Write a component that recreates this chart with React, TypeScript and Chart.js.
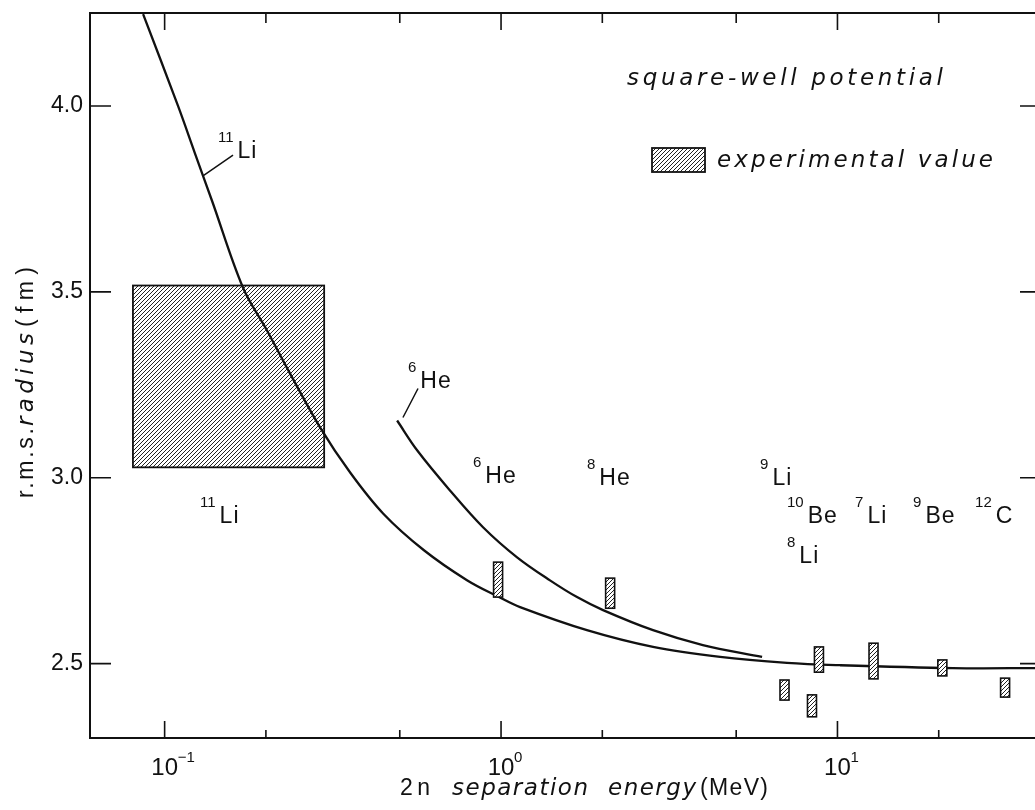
import React, { useEffect, useRef } from "react";
import { Chart, registerables } from "chart.js";

Chart.register(...registerables);

// ---------------- data ----------------
// 11Li square-well curve (2n separation energy in MeV, r.m.s. radius in fm)
const li11CurveX = [0.0863, 0.1096, 0.1229, 0.1383, 0.171, 0.2015, 0.236, 0.29, 0.356, 0.446, 0.59, 0.792, 0.986, 1.139, 1.8, 2.83, 4.48, 7.08, 9.97, 22.0, 40];
const li11CurveY = [4.247, 4.0, 3.874, 3.745, 3.511, 3.396, 3.28, 3.135, 3.014, 2.904, 2.805, 2.7245, 2.679, 2.652, 2.59, 2.545, 2.518, 2.502, 2.496, 2.488, 2.488];

// 6He square-well curve
const he6CurveX = [0.491, 0.563, 0.705, 0.884, 1.116, 1.398, 1.682, 2.01, 2.83, 3.98, 5.97];
const he6CurveY = [3.154, 3.074, 2.966, 2.867, 2.786, 2.724, 2.679, 2.644, 2.59, 2.55, 2.518];

// 11Li experimental value (large box)
const li11BoxX = [0.0805, 0.298];
const li11BoxY = [3.028, 3.517];

// other experimental values (small boxes): S2n and radius range
const expX = [0.98, 2.11, 6.96, 8.4, 8.81, 12.8, 20.5, 31.5];
const expLow = [2.679, 2.649, 2.402, 2.357, 2.477, 2.459, 2.467, 2.41];
const expHigh = [2.773, 2.73, 2.456, 2.416, 2.545, 2.555, 2.51, 2.461];

// isotope labels (anchored in data coordinates)
const labelSup = ["11", "11", "6", "6", "8", "9", "10", "7", "9", "12", "8"];
const labelMain = ["Li", "Li", "He", "He", "He", "Li", "Be", "Li", "Be", "C", "Li"];
const labelX = [0.1441, 0.1274, 0.529, 0.8253, 1.801, 5.887, 7.08, 11.28, 16.78, 25.65, 7.08];
const labelY = [3.86, 2.8776, 3.2427, 2.985, 2.98, 2.98, 2.8776, 2.8776, 2.8776, 2.8776, 2.77];

// leader lines from curves to their labels
const leaderX0 = [0.13, 0.511];
const leaderY0 = [3.812, 3.162];
const leaderX1 = [0.1597, 0.5665];
const leaderY1 = [3.868, 3.24];

// axes
const xMin = 0.06;
const xMax = 40;
const yMin = 2.3;
const yMax = 4.25;
const xMajorTicks = [0.1, 1, 10];
const xMajorExp = ["\u22121", "0", "1"];
const xMinorTicks = [0.2, 0.5, 2, 5, 20];
const yTicks = [2.5, 3.0, 3.5, 4.0];
const yTickLabels = ["2.5", "3.0", "3.5", "4.0"];

const noteText = "square-well potential";
const legendText = "experimental value";

// ---------------- drawing helpers ----------------
const INK = "#111";
const SANS = '"Liberation Sans", Arial, sans-serif';
const ITAL = '"DejaVu Sans", sans-serif';

function fillFit(ctx: CanvasRenderingContext2D, text: string, x: number, y: number, width: number) {
  const c: any = ctx;
  c.letterSpacing = "0px";
  const w = ctx.measureText(text).width;
  const n = [...text].length;
  const ls = n > 1 ? (width - w) / (n - 1) : 0;
  c.letterSpacing = ls + "px";
  ctx.fillText(text, x, y);
  c.letterSpacing = "0px";
}

function makeHatch(ctx: CanvasRenderingContext2D) {
  const pc = document.createElement("canvas");
  const s = 4;
  pc.width = s;
  pc.height = s;
  const p = pc.getContext("2d")!;
  p.fillStyle = "#fff";
  p.fillRect(0, 0, s, s);
  p.strokeStyle = "#222";
  p.lineWidth = 1;
  p.beginPath();
  p.moveTo(-1, s + 1);
  p.lineTo(s + 1, -1);
  p.moveTo(-1, 1);
  p.lineTo(1, -1);
  p.moveTo(s - 1, s + 1);
  p.lineTo(s + 1, s - 1);
  p.stroke();
  return ctx.createPattern(pc, "repeat")!;
}

const boxesBehind = {
  id: "boxesBehind",
  beforeDatasetsDraw(chart: any) {
    const ctx: CanvasRenderingContext2D = chart.ctx;
    const xs = chart.scales.x;
    const ys = chart.scales.y;
    const x0 = xs.getPixelForValue(li11BoxX[0]);
    const x1 = xs.getPixelForValue(li11BoxX[1]);
    const y0 = ys.getPixelForValue(li11BoxY[1]);
    const y1 = ys.getPixelForValue(li11BoxY[0]);
    ctx.save();
    ctx.fillStyle = makeHatch(ctx);
    ctx.fillRect(x0, y0, x1 - x0, y1 - y0);
    ctx.strokeStyle = INK;
    ctx.lineWidth = 1.8;
    ctx.strokeRect(x0, y0, x1 - x0, y1 - y0);
    ctx.restore();
  },
};

const decorations = {
  id: "decorations",
  afterDatasetsDraw(chart: any) {
    const ctx: CanvasRenderingContext2D = chart.ctx;
    const xs = chart.scales.x;
    const ys = chart.scales.y;
    const { left, right, top, bottom } = chart.chartArea;
    const hatch = makeHatch(ctx);
    ctx.save();

    // small experimental boxes
    const halfW = 4.5;
    for (let i = 0; i < expX.length; i++) {
      const cx = xs.getPixelForValue(expX[i]);
      const y0 = ys.getPixelForValue(expHigh[i]);
      const y1 = ys.getPixelForValue(expLow[i]);
      ctx.fillStyle = hatch;
      ctx.fillRect(cx - halfW, y0, halfW * 2, y1 - y0);
      ctx.strokeStyle = INK;
      ctx.lineWidth = 1.6;
      ctx.strokeRect(cx - halfW, y0, halfW * 2, y1 - y0);
    }

    // frame
    ctx.strokeStyle = INK;
    ctx.lineWidth = 2;
    ctx.strokeRect(left, top, right - left, bottom - top);

    // x ticks (inward, bottom & top)
    ctx.lineWidth = 1.6;
    ctx.beginPath();
    for (const v of xMajorTicks) {
      const px = xs.getPixelForValue(v);
      ctx.moveTo(px, bottom);
      ctx.lineTo(px, bottom - 17);
      ctx.moveTo(px, top);
      ctx.lineTo(px, top + 17);
    }
    for (const v of xMinorTicks) {
      const px = xs.getPixelForValue(v);
      ctx.moveTo(px, bottom);
      ctx.lineTo(px, bottom - 8);
      ctx.moveTo(px, top);
      ctx.lineTo(px, top + 10);
    }
    // y ticks (inward, left & right)
    for (const v of yTicks) {
      const py = ys.getPixelForValue(v);
      ctx.moveTo(left, py);
      ctx.lineTo(left + 21, py);
      ctx.moveTo(right, py);
      ctx.lineTo(right - 20, py);
    }
    ctx.stroke();

    ctx.fillStyle = INK;
    // y tick labels
    ctx.font = "23px " + SANS;
    ctx.textAlign = "right";
    ctx.textBaseline = "middle";
    yTicks.forEach((v, i) => {
      ctx.fillText(yTickLabels[i], left - 7, ys.getPixelForValue(v));
    });

    // x tick labels 10^n
    ctx.textBaseline = "alphabetic";
    xMajorTicks.forEach((v, i) => {
      const px = xs.getPixelForValue(v);
      ctx.font = "24px " + SANS;
      ctx.textAlign = "center";
      ctx.fillText("10", px, bottom + 37);
      ctx.font = "15px " + SANS;
      ctx.textAlign = "left";
      ctx.fillText(xMajorExp[i], px + 13, bottom + 24);
    });

    // isotope labels
    ctx.textAlign = "left";
    const c: any = ctx;
    for (let i = 0; i < labelSup.length; i++) {
      const px = xs.getPixelForValue(labelX[i]);
      const py = ys.getPixelForValue(labelY[i]);
      ctx.font = "15px " + SANS;
      ctx.fillText(labelSup[i], px, py - 16);
      const sw = ctx.measureText(labelSup[i]).width;
      ctx.font = "23px " + SANS;
      c.letterSpacing = "1px";
      ctx.fillText(labelMain[i], px + sw + 4, py);
      c.letterSpacing = "0px";
    }

    // leader lines
    ctx.lineWidth = 1.5;
    ctx.beginPath();
    for (let i = 0; i < leaderX0.length; i++) {
      ctx.moveTo(xs.getPixelForValue(leaderX0[i]), ys.getPixelForValue(leaderY0[i]));
      ctx.lineTo(xs.getPixelForValue(leaderX1[i]), ys.getPixelForValue(leaderY1[i]));
    }
    ctx.stroke();

    // annotation and legend
    ctx.font = "italic 23px " + ITAL;
    fillFit(ctx, noteText, left + 537, top + 72, 316);
    const lx = left + 562;
    const ly = top + 135;
    ctx.fillStyle = hatch;
    ctx.fillRect(lx, ly, 53, 24);
    ctx.strokeStyle = INK;
    ctx.lineWidth = 1.8;
    ctx.strokeRect(lx, ly, 53, 24);
    ctx.fillStyle = INK;
    ctx.font = "italic 23px " + ITAL;
    fillFit(ctx, legendText, left + 627, top + 154, 276);

    // x axis title
    const tb = bottom + 57;
    ctx.font = "23px " + SANS;
    fillFit(ctx, "2n", 400, tb, 30);
    ctx.font = "italic 23px " + ITAL;
    fillFit(ctx, "separation", 452, tb, 136);
    fillFit(ctx, "energy", 608, tb, 88);
    ctx.font = "23px " + SANS;
    fillFit(ctx, "(MeV)", 700, tb, 68);

    // y axis title (rotated)
    ctx.save();
    ctx.translate(33, 498);
    ctx.rotate(-Math.PI / 2);
    ctx.font = "23px " + SANS;
    fillFit(ctx, "r.m.s.", 0, 0, 70);
    ctx.font = "italic 23px " + ITAL;
    fillFit(ctx, "radius", 72, 0, 93);
    ctx.font = "23px " + SANS;
    fillFit(ctx, "(fm)", 171, 0, 60);
    ctx.restore();

    ctx.restore();
  },
};

export default function App() {
  const ref = useRef<HTMLCanvasElement | null>(null);

  useEffect(() => {
    if (!ref.current) return;
    const toPts = (xs: number[], ys: number[]) => xs.map((x, i) => ({ x, y: ys[i] }));
    const chart = new Chart(ref.current, {
      type: "scatter",
      data: {
        datasets: [
          {
            label: "11Li",
            data: toPts(li11CurveX, li11CurveY),
            showLine: true,
            borderColor: INK,
            borderWidth: 2.3,
            pointRadius: 0,
            tension: 0.35,
          },
          {
            label: "6He",
            data: toPts(he6CurveX, he6CurveY),
            showLine: true,
            borderColor: INK,
            borderWidth: 2.3,
            pointRadius: 0,
            tension: 0.35,
          },
        ],
      },
      options: {
        animation: false,
        responsive: false,
        layout: { padding: { left: 90, top: 13, right: 10, bottom: 72 } },
        plugins: { legend: { display: false }, tooltip: { enabled: false } },
        scales: {
          x: {
            type: "logarithmic",
            min: xMin,
            max: xMax,
            grid: { display: false, drawTicks: false },
            ticks: { display: false },
            border: { display: false },
          },
          y: {
            type: "linear",
            min: yMin,
            max: yMax,
            grid: { display: false, drawTicks: false },
            ticks: { display: false },
            border: { display: false },
          },
        },
      },
      plugins: [boxesBehind, decorations],
    } as any);
    return () => chart.destroy();
  }, []);

  return (
    <div
      style={{
        position: "fixed",
        left: 0,
        top: 0,
        width: 1035,
        height: 810,
        overflow: "hidden",
        background: "#fff",
      }}
    >
      <canvas ref={ref} width={1050} height={810} style={{ display: "block", width: 1050, height: 810 }} />
    </div>
  );
}
